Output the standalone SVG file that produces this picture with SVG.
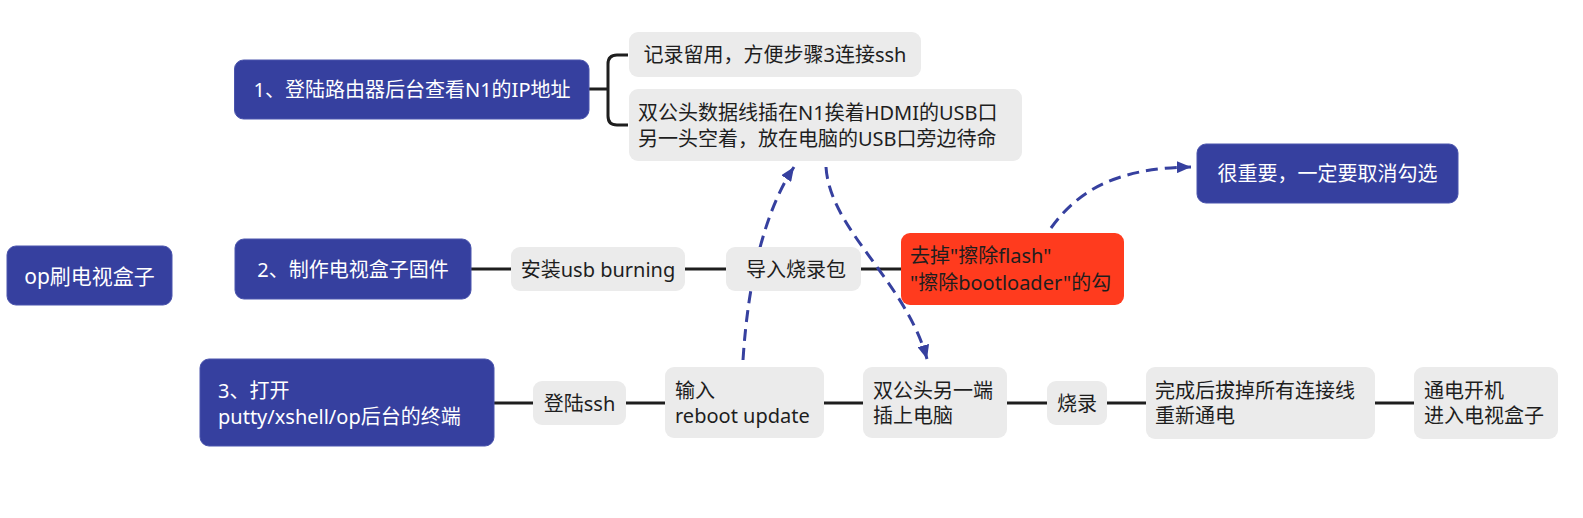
<svg xmlns="http://www.w3.org/2000/svg" width="1583" height="518" viewBox="0 0 1583 518">
<defs>
<style>
.blue{fill:#36409F;stroke:#4a54ad;stroke-width:1}
.grey{fill:#EBEBEB}
.red{fill:#FF3B1E}
text{font-family:"Noto Sans","Noto Sans CJK SC",sans-serif;font-size:20px;dominant-baseline:central}
.w{fill:#FFFFFF}
.k{fill:#1E1E1E}
.mid{text-anchor:middle}
.big{font-size:21px}
.line{fill:none;stroke:#1E1E1E;stroke-width:3}
.dash{fill:none;stroke:#36409F;stroke-width:3;stroke-dasharray:12 7}
</style>
<marker id="ah" viewBox="0 0 14 12" refX="14" refY="6" markerWidth="14" markerHeight="12" markerUnits="userSpaceOnUse" orient="auto">
<path d="M0,0 L14,6 L0,12 Z" fill="#36409F"/>
</marker>
</defs>
<rect width="1583" height="518" fill="#FFFFFF"/>

<g id="connectors">
<path class="line" d="M589,89 H608 M628,55 H617 Q608,55 608,64 V116 Q608,125 617,125 H628"/>
<path class="line" d="M471,269 H511 M685,269 H726 M861,269 H901"/>
<path class="line" d="M494,403 H533 M626,403 H665 M824,403 H863 M1007,403 H1047 M1107,403 H1146 M1375,403 H1414"/>
<path class="dash" d="M743,360 C748,280 765,210 794,167" marker-end="url(#ah)"/>
<path class="dash" d="M826,167 C830,230 905,280 927,359" marker-end="url(#ah)"/>
<path class="dash" d="M1051,228 C1075,195 1110,168 1191,167" marker-end="url(#ah)"/>
</g>

<g id="root">
<rect class="blue" x="7" y="246" width="165" height="59" rx="9"/>
<text class="w mid big" x="89.5" y="276">op刷电视盒子</text>
</g>

<g id="step1">
<rect class="blue" x="234.5" y="60" width="354.5" height="59" rx="9"/>
<text class="w mid" x="412" y="89.5">1、登陆路由器后台查看N1的IP地址</text>
</g>
<g id="step1-a">
<rect class="grey" x="629" y="32" width="292" height="45" rx="9"/>
<text class="k mid" x="775" y="54.5">记录留用，方便步骤3连接ssh</text>
</g>
<g id="step1-b">
<rect class="grey" x="629" y="89" width="393" height="72" rx="9"/>
<text class="k" x="638" y="112">双公头数据线插在N1挨着HDMI的USB口</text>
<text class="k" x="638" y="138">另一头空着，放在电脑的USB口旁边待命</text>
</g>

<g id="step2">
<rect class="blue" x="235" y="239" width="236" height="60" rx="9"/>
<text class="w mid" x="353" y="269">2、制作电视盒子固件</text>
</g>
<g id="step2-a">
<rect class="grey" x="511" y="247" width="174" height="44" rx="9"/>
<text class="k mid" x="598" y="269">安装usb burning</text>
</g>
<g id="step2-b">
<rect class="grey" x="726" y="247" width="135" height="44" rx="9"/>
<text class="k mid" x="796" y="269">导入烧录包</text>
</g>
<g id="step2-c">
<rect class="red" x="901" y="233" width="223" height="72" rx="9"/>
<text class="k" x="910" y="255.5">去掉"擦除flash"</text>
<text class="k" x="910" y="282.5">"擦除bootloader"的勾</text>
</g>
<g id="note">
<rect class="blue" x="1197" y="144" width="261" height="59" rx="9"/>
<text class="w mid" x="1327.5" y="173.5">很重要，一定要取消勾选</text>
</g>

<g id="step3">
<rect class="blue" x="200" y="359" width="294" height="87" rx="9"/>
<text class="w" x="218" y="390.5">3、打开</text>
<text class="w" x="218" y="416">putty/xshell/op后台的终端</text>
</g>
<g id="step3-a">
<rect class="grey" x="533" y="381" width="93" height="44" rx="9"/>
<text class="k mid" x="579.5" y="403">登陆ssh</text>
</g>
<g id="step3-b">
<rect class="grey" x="665" y="367" width="159" height="71" rx="9"/>
<text class="k" x="675" y="390">输入</text>
<text class="k" x="675" y="415">reboot update</text>
</g>
<g id="step3-c">
<rect class="grey" x="863" y="367" width="144" height="71" rx="9"/>
<text class="k" x="873" y="390">双公头另一端</text>
<text class="k" x="873" y="415">插上电脑</text>
</g>
<g id="step3-d">
<rect class="grey" x="1047" y="381" width="60" height="44" rx="9"/>
<text class="k mid" x="1077" y="403">烧录</text>
</g>
<g id="step3-e">
<rect class="grey" x="1146" y="367" width="229" height="72" rx="9"/>
<text class="k" x="1155" y="390">完成后拔掉所有连接线</text>
<text class="k" x="1155" y="415">重新通电</text>
</g>
<g id="step3-f">
<rect class="grey" x="1414" y="367" width="144" height="72" rx="9"/>
<text class="k" x="1424" y="390">通电开机</text>
<text class="k" x="1424" y="415">进入电视盒子</text>
</g>
</svg>
